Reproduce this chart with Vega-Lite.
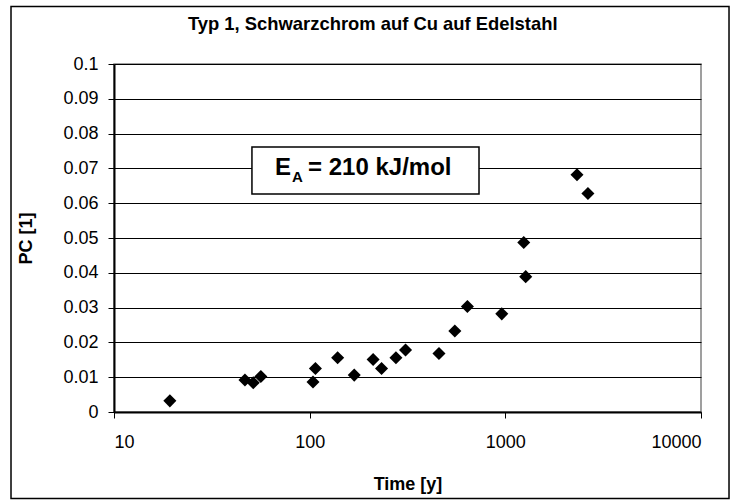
{
  "$schema": "https://vega.github.io/schema/vega-lite/v6.json",
  "width": 587,
  "height": 348,
  "autosize": {"type": "none"},
  "padding": {"left": 114, "top": 64, "right": 31, "bottom": 88},
  "background": "white",
  "layer": [
    {
      "data": {
        "values": [
          {"time": 19.3, "pc": 0.0032},
          {"time": 46.7, "pc": 0.0092},
          {"time": 51.5, "pc": 0.0084},
          {"time": 56.3, "pc": 0.0102},
          {"time": 104, "pc": 0.0086},
          {"time": 107, "pc": 0.0125},
          {"time": 139, "pc": 0.0156},
          {"time": 169, "pc": 0.0106},
          {"time": 211, "pc": 0.0151},
          {"time": 233, "pc": 0.0125},
          {"time": 276, "pc": 0.0156},
          {"time": 309, "pc": 0.0178},
          {"time": 458, "pc": 0.0168},
          {"time": 552, "pc": 0.0233},
          {"time": 640, "pc": 0.0303},
          {"time": 959, "pc": 0.0282},
          {"time": 1242, "pc": 0.0487},
          {"time": 1271, "pc": 0.0389},
          {"time": 2324, "pc": 0.0682},
          {"time": 2643, "pc": 0.0628}
        ]
      },
      "mark": {"type": "point", "shape": "diamond", "filled": true, "color": "black", "size": 170, "opacity": 1},
      "encoding": {
        "x": {
          "field": "time",
          "type": "quantitative",
          "scale": {"type": "log", "domain": [10, 10000], "nice": false},
          "axis": {
            "title": "Time [y]",
            "values": [10, 100, 1000, 10000],
            "format": "d",
            "grid": false,
            "labelOverlap": false,
            "labelPadding": 15,
            "titlePadding": 24
          }
        },
        "y": {
          "field": "pc",
          "type": "quantitative",
          "scale": {"domain": [0, 0.1], "nice": false, "zero": true},
          "axis": {
            "title": "PC [1]",
            "tickCount": 10,
            "format": ".2~f",
            "grid": true,
            "labelOverlap": false,
            "labelPadding": 10,
            "titlePadding": 27
          }
        }
      }
    },
    {
      "data": {"values": [{}]},
      "mark": {"type": "rect", "fill": "white", "stroke": "black", "strokeWidth": 1.5},
      "encoding": {
        "x": {"datum": 50.7, "type": "quantitative", "scale": {"type": "log", "domain": [10, 10000], "nice": false}},
        "x2": {"datum": 733.6},
        "y": {"datum": 0.07615, "type": "quantitative", "scale": {"domain": [0, 0.1], "nice": false, "zero": true}},
        "y2": {"datum": 0.06264}
      }
    },
    {
      "data": {"values": [{}]},
      "mark": {"type": "text", "text": "E", "align": "left", "baseline": "alphabetic", "fontSize": 24, "fontWeight": "bold", "color": "black"},
      "encoding": {
        "x": {"datum": 66.5, "type": "quantitative", "scale": {"type": "log", "domain": [10, 10000], "nice": false}},
        "y": {"datum": 0.0681, "type": "quantitative", "scale": {"domain": [0, 0.1], "nice": false, "zero": true}}
      }
    },
    {
      "data": {"values": [{}]},
      "mark": {"type": "text", "text": "A", "align": "left", "baseline": "alphabetic", "fontSize": 15, "fontWeight": "bold", "color": "black"},
      "encoding": {
        "x": {"datum": 81.2, "type": "quantitative", "scale": {"type": "log", "domain": [10, 10000], "nice": false}},
        "y": {"datum": 0.06618, "type": "quantitative", "scale": {"domain": [0, 0.1], "nice": false, "zero": true}}
      }
    },
    {
      "data": {"values": [{}]},
      "mark": {"type": "text", "text": "= 210 kJ/mol", "align": "left", "baseline": "alphabetic", "fontSize": 24, "fontWeight": "bold", "color": "black"},
      "encoding": {
        "x": {"datum": 98.1, "type": "quantitative", "scale": {"type": "log", "domain": [10, 10000], "nice": false}},
        "y": {"datum": 0.0681, "type": "quantitative", "scale": {"domain": [0, 0.1], "nice": false, "zero": true}}
      }
    },
    {
      "data": {"values": [{}]},
      "mark": {"type": "text", "text": "Typ 1, Schwarzchrom auf Cu auf Edelstahl", "align": "center", "baseline": "alphabetic", "fontSize": 18.4, "fontWeight": "bold", "color": "black"},
      "encoding": {
        "x": {"datum": 210, "type": "quantitative", "scale": {"type": "log", "domain": [10, 10000], "nice": false}},
        "y": {"datum": 0.10986, "type": "quantitative", "scale": {"domain": [0, 0.1], "nice": false, "zero": true}}
      }
    },
    {
      "data": {"values": [{}]},
      "mark": {"type": "rect", "fill": null, "fillOpacity": 0, "stroke": "black", "strokeWidth": 1.5},
      "encoding": {
        "x": {"datum": 2.976, "type": "quantitative", "scale": {"type": "log", "domain": [10, 10000], "nice": false}},
        "x2": {"datum": 13905},
        "y": {"datum": 0.1165, "type": "quantitative", "scale": {"domain": [0, 0.1], "nice": false, "zero": true}},
        "y2": {"datum": -0.02486}
      }
    }
  ],
  "config": {
    "font": "Liberation Sans",
    "view": {"stroke": "#808080", "strokeWidth": 1.5},
    "axis": {
      "domainColor": "black",
      "domainWidth": 2,
      "tickColor": "black",
      "tickSize": 6,
      "tickWidth": 1,
      "gridColor": "black",
      "gridWidth": 1,
      "gridOpacity": 1,
      "labelFont": "Liberation Sans",
      "labelFontSize": 18,
      "labelColor": "black",
      "titleFont": "Liberation Sans",
      "titleFontSize": 18,
      "titleFontWeight": "bold",
      "titleColor": "black"
    }
  }
}
